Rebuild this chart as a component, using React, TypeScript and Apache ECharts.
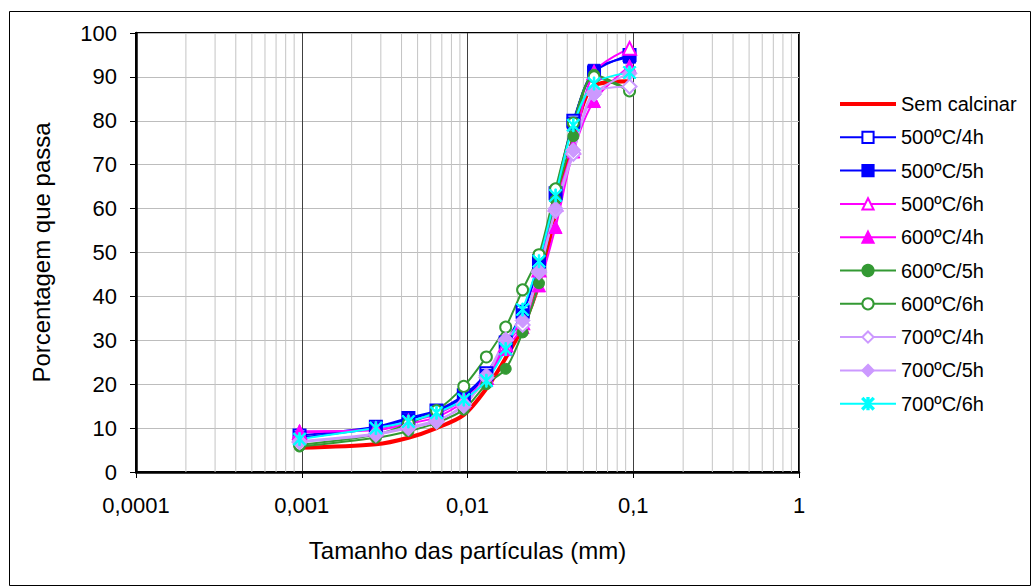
import React, { useEffect, useRef } from "react";
import * as echarts from "echarts";

// Particle sizes (mm) of the measured points
const sizes = [0.00097, 0.0028, 0.0044, 0.0065, 0.0095, 0.013, 0.017, 0.0215, 0.027, 0.034, 0.0435, 0.058, 0.095];

// Percentage passing for each treatment
const semCalcinar = [5.5, 6.3, 7.8, 10.0, 13.0, 19.0, 26.0, 33.0, 43.0, 59.0, 76.0, 88.0, 89.0];
const c500h4 = [8.3, 10.3, 12.3, 14.0, 17.5, 22.5, 29.5, 36.5, 48.0, 63.5, 80.0, 91.0, 95.0];
const c500h5 = [7.8, 10.0, 12.0, 13.8, 17.0, 22.0, 28.5, 35.8, 47.5, 63.0, 79.5, 91.5, 94.5];
const c500h6 = [9.0, 9.8, 11.5, 13.2, 16.5, 21.5, 29.0, 34.0, 46.0, 61.0, 74.0, 91.0, 96.5];
const c600h4 = [9.3, 9.5, 11.0, 12.5, 16.0, 21.0, 28.0, 33.0, 42.5, 55.8, 73.0, 84.5, 92.5];
const c600h5 = [5.8, 7.8, 9.3, 11.2, 14.2, 20.0, 23.5, 31.8, 43.0, 62.0, 76.5, 90.5, 87.0];
const c600h6 = [6.2, 8.5, 11.0, 14.0, 19.5, 26.2, 33.0, 41.5, 49.5, 64.5, 79.5, 90.0, 86.8];
const c700h4 = [6.8, 8.5, 10.0, 11.5, 15.5, 21.5, 30.0, 33.5, 45.5, 59.5, 72.5, 86.5, 87.8];
const c700h5 = [7.0, 8.7, 10.2, 11.8, 15.0, 22.0, 30.2, 34.5, 45.8, 60.0, 73.3, 86.0, 90.8];
const c700h6 = [7.5, 10.0, 11.5, 13.5, 16.5, 20.8, 28.0, 37.0, 48.0, 63.0, 79.0, 88.5, 91.0];

const names = [
  "Sem calcinar",
  "500ºC/4h",
  "500ºC/5h",
  "500ºC/6h",
  "600ºC/4h",
  "600ºC/5h",
  "600ºC/6h",
  "700ºC/4h",
  "700ºC/5h",
  "700ºC/6h",
];

const decades = [0.0001, 0.001, 0.01, 0.1];
const minorSteps = [2, 3, 4, 5, 6, 7, 8, 9];

const ASTERISK =
  "path://M4.4 0H5.6V10H4.4Z M0 0.9L0.9 0L10 9.1L9.1 10Z M9.1 0L10 0.9L0.9 10L0 9.1Z";

const FONT = "'Liberation Sans', Arial, sans-serif";

const pts = (ys: number[]) => sizes.map((x, i) => [x, ys[i]]);

export default function App() {
  const ref = useRef<HTMLDivElement>(null);

  useEffect(() => {
    if (!ref.current) return;
    const chart = echarts.init(ref.current, undefined, { renderer: "svg" });

    const mk = (
      name: string,
      ys: number[],
      color: string,
      symbol: string,
      open: boolean,
      size = 10
    ) => ({
      name,
      type: "line",
      data: pts(ys),
      smooth: 0.3,
      symbol,
      symbolSize: size,
      showAllSymbol: true,
      lineStyle: { color, width: 2 },
      itemStyle: open
        ? { color: "#ffffff", borderColor: color, borderWidth: 2 }
        : { color, borderColor: color, borderWidth: 1 },
      z: 3,
    });

    // minor vertical gridlines at 2..9 of every decade, as broken segments
    const minorGrid: any[] = [];
    decades.forEach((d) =>
      minorSteps.forEach((k) => {
        const v = +(k * d).toPrecision(3);
        minorGrid.push([v, 0], [v, 100], [v, "-"]);
      })
    );

    const legendData = names.map((n, i) =>
      i === 0
        ? {
            name: n,
            itemStyle: { color: "rgba(0,0,0,0)", borderColor: "rgba(0,0,0,0)", opacity: 0 },
            lineStyle: { width: 4, color: "#ff0000" },
          }
        : { name: n }
    );

    const option = {
      animation: false,
      textStyle: { fontFamily: FONT },
      graphic: [
        {
          type: "rect",
          shape: { x: 9.5, y: 11.5, width: 1021, height: 574 },
          style: { fill: "none", stroke: "#000", lineWidth: 1 },
          silent: true,
        },
      ],
      grid: {
        left: 136,
        right: 233,
        top: 33,
        bottom: 115,
        show: true,
        borderColor: "#000",
        borderWidth: 2,
        backgroundColor: "transparent",
      },
      legend: {
        orient: "vertical",
        left: 833,
        top: 89,
        itemWidth: 56,
        itemHeight: 14,
        itemGap: 13.3,
        data: legendData,
        textStyle: { fontFamily: FONT, fontSize: 20, color: "#000" },
      },
      xAxis: {
        type: "log",
        logBase: 10,
        min: 0.0001,
        max: 1,
        name: "Tamanho das partículas (mm)",
        nameLocation: "middle",
        nameGap: 66,
        nameTextStyle: { fontFamily: FONT, fontSize: 24, color: "#000" },
        axisLine: { show: true, onZero: false, lineStyle: { color: "#000", width: 2.5 } },
        axisTick: { show: true, inside: false, length: 6, lineStyle: { color: "#000" } },
        axisLabel: {
          fontFamily: FONT,
          fontSize: 22,
          color: "#000",
          margin: 22,
          formatter: (v: number) => String(v).replace(".", ","),
        },
        splitLine: { show: true, lineStyle: { color: "#404040", width: 1 } },
      },
      yAxis: {
        type: "value",
        min: 0,
        max: 100,
        interval: 10,
        name: "Porcentagem que passa",
        nameLocation: "middle",
        nameGap: 83,
        nameTextStyle: { fontFamily: FONT, fontSize: 24, color: "#000" },
        axisLine: { show: true, lineStyle: { color: "#000", width: 2.5 } },
        axisTick: { show: true, length: 6, lineStyle: { color: "#000" } },
        axisLabel: { fontFamily: FONT, fontSize: 22, color: "#000", margin: 19 },
        splitLine: { show: true, lineStyle: { color: "#bdbdbd", width: 1 } },
      },
      series: [
        {
          name: "minorGrid",
          type: "line",
          data: minorGrid,
          symbol: "none",
          silent: true,
          connectNulls: false,
          lineStyle: { color: "#c4c4c4", width: 1 },
          emphasis: { disabled: true },
          z: 1,
        },
        {
          name: names[0],
          type: "line",
          data: pts(semCalcinar),
          smooth: 0.3,
          symbol: "none",
          lineStyle: { color: "#ff0000", width: 4 },
          itemStyle: { color: "#ff0000" },
          z: 2,
        },
        mk(names[1], c500h4, "#0000ff", "rect", true, 12),
        mk(names[2], c500h5, "#0000ff", "rect", false, 12),
        mk(names[3], c500h6, "#ff00ff", "triangle", true, 13),
        mk(names[4], c600h4, "#ff00ff", "triangle", false, 13),
        mk(names[5], c600h5, "#339933", "circle", false, 11),
        mk(names[6], c600h6, "#339933", "circle", true, 11),
        mk(names[7], c700h4, "#cc99ff", "diamond", true, 14),
        mk(names[8], c700h5, "#cc99ff", "diamond", false, 15),
        mk(names[9], c700h6, "#00ffff", ASTERISK, false, 13),
      ],
    };

    chart.setOption(option as any);
    return () => chart.dispose();
  }, []);

  return (
    <div
      ref={ref}
      style={{ position: "absolute", left: 0, top: 0, width: 1032, height: 587, background: "#fff" }}
    />
  );
}
